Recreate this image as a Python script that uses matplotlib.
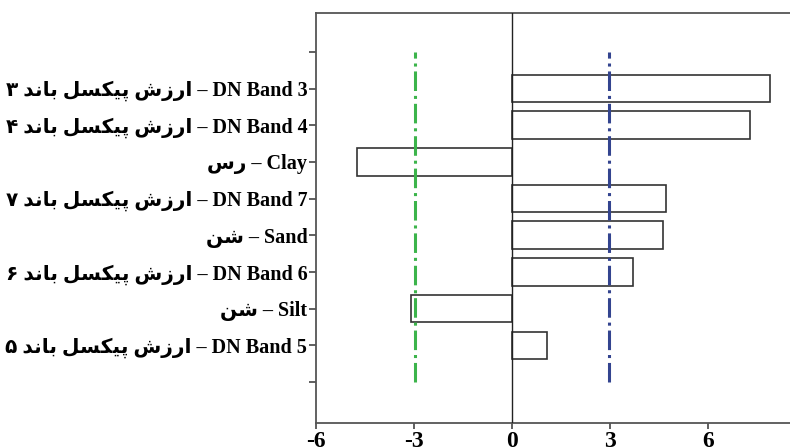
import matplotlib
matplotlib.use("Agg")
import matplotlib.pyplot as plt

plt.rcParams["axes.unicode_minus"] = False

# labels (english part + persian part), bottom to top
english = ["DN Band 5", "Silt", "DN Band 6", "Sand", "DN Band 7", "Clay", "DN Band 4", "DN Band 3"]
persian = ["ارزش پیکسل باند ۵", "شن", "ارزش پیکسل باند ۶", "شن", "ارزش پیکسل باند ۷", "رس",
           "ارزش پیکسل باند ۴", "ارزش پیکسل باند ۳"]
values = [1.06, -3.08, 3.68, 4.6, 4.71, -4.73, 7.28, 7.89]
limit = 2.97

# arabic presentation forms: isolated, final, initial, medial
FORMS = {
    "ا": ("\uFE8D", "\uFE8E", "\uFE8D", "\uFE8E"),
    "ب": ("\uFE8F", "\uFE90", "\uFE91", "\uFE92"),
    "پ": ("\uFB56", "\uFB57", "\uFB58", "\uFB59"),
    "د": ("\uFEA9", "\uFEAA", "\uFEA9", "\uFEAA"),
    "ر": ("\uFEAD", "\uFEAE", "\uFEAD", "\uFEAE"),
    "ز": ("\uFEAF", "\uFEB0", "\uFEAF", "\uFEB0"),
    "س": ("\uFEB1", "\uFEB2", "\uFEB3", "\uFEB4"),
    "ش": ("\uFEB5", "\uFEB6", "\uFEB7", "\uFEB8"),
    "ک": ("\uFB8E", "\uFB8F", "\uFB90", "\uFB91"),
    "ل": ("\uFEDD", "\uFEDE", "\uFEDF", "\uFEE0"),
    "ن": ("\uFEE5", "\uFEE6", "\uFEE7", "\uFEE8"),
    "ی": ("\uFBFC", "\uFBFD", "\uFBFE", "\uFBFF"),
}
RIGHT_ONLY = set("ادذرزژو")


def shape_word(w):
    out = []
    for i, ch in enumerate(w):
        if ch not in FORMS:
            out.append(ch)
            continue
        prev = i > 0 and w[i - 1] in FORMS and w[i - 1] not in RIGHT_ONLY
        nxt = i < len(w) - 1 and w[i + 1] in FORMS and ch not in RIGHT_ONLY
        idx = 3 if (prev and nxt) else 1 if prev else 2 if nxt else 0
        out.append(FORMS[ch][idx])
    return "".join(reversed(out))


def visual(text):
    return " ".join(shape_word(w) for w in reversed(text.split()))


labels = [visual(p) + " – " + e for p, e in zip(persian, english)]

fig = plt.figure(figsize=(7.9, 4.48), dpi=100)
ax = fig.add_axes([0.3996, 0.0558, 0.6004, 0.9152])

pos = list(range(1, len(values) + 1))
ax.barh(pos, values, height=0.75, color="white", edgecolor="#333333", linewidth=1.2, zorder=2)
ax.axvline(0, color="#222222", linewidth=1.0, zorder=3)
ax.plot([-limit, -limit], [0, 9], color="#3cb44b", linestyle="-.", linewidth=2.2, zorder=4)
ax.plot([limit, limit], [0, 9], color="#33448f", linestyle="-.", linewidth=2.2, zorder=4)

ax.set_xlim(-6, 8.49)
ax.set_ylim(-1.12, 10.06)
ax.set_xticks([-6, -3, 0, 3, 6])
ax.set_yticks(range(0, 10))
ax.set_yticklabels([""] + labels + [""])

for lab in ax.get_yticklabels():
    lab.set_family(["Liberation Serif", "DejaVu Sans"])
    lab.set_fontweight("bold")
    lab.set_fontsize(14.5)
for lab in ax.get_xticklabels():
    lab.set_family("Liberation Serif")
    lab.set_fontweight("bold")
    lab.set_fontsize(17)

ax.tick_params(axis="y", length=5, width=1.2, pad=1, color="#444444")
ax.tick_params(axis="x", length=4, width=1.2, pad=1.5, color="#444444")
ax.spines["right"].set_visible(False)
for s in ["left", "bottom", "top"]:
    ax.spines[s].set_color("#555555")
    ax.spines[s].set_linewidth(1.3)

fig.savefig("out.png", dpi=100)
